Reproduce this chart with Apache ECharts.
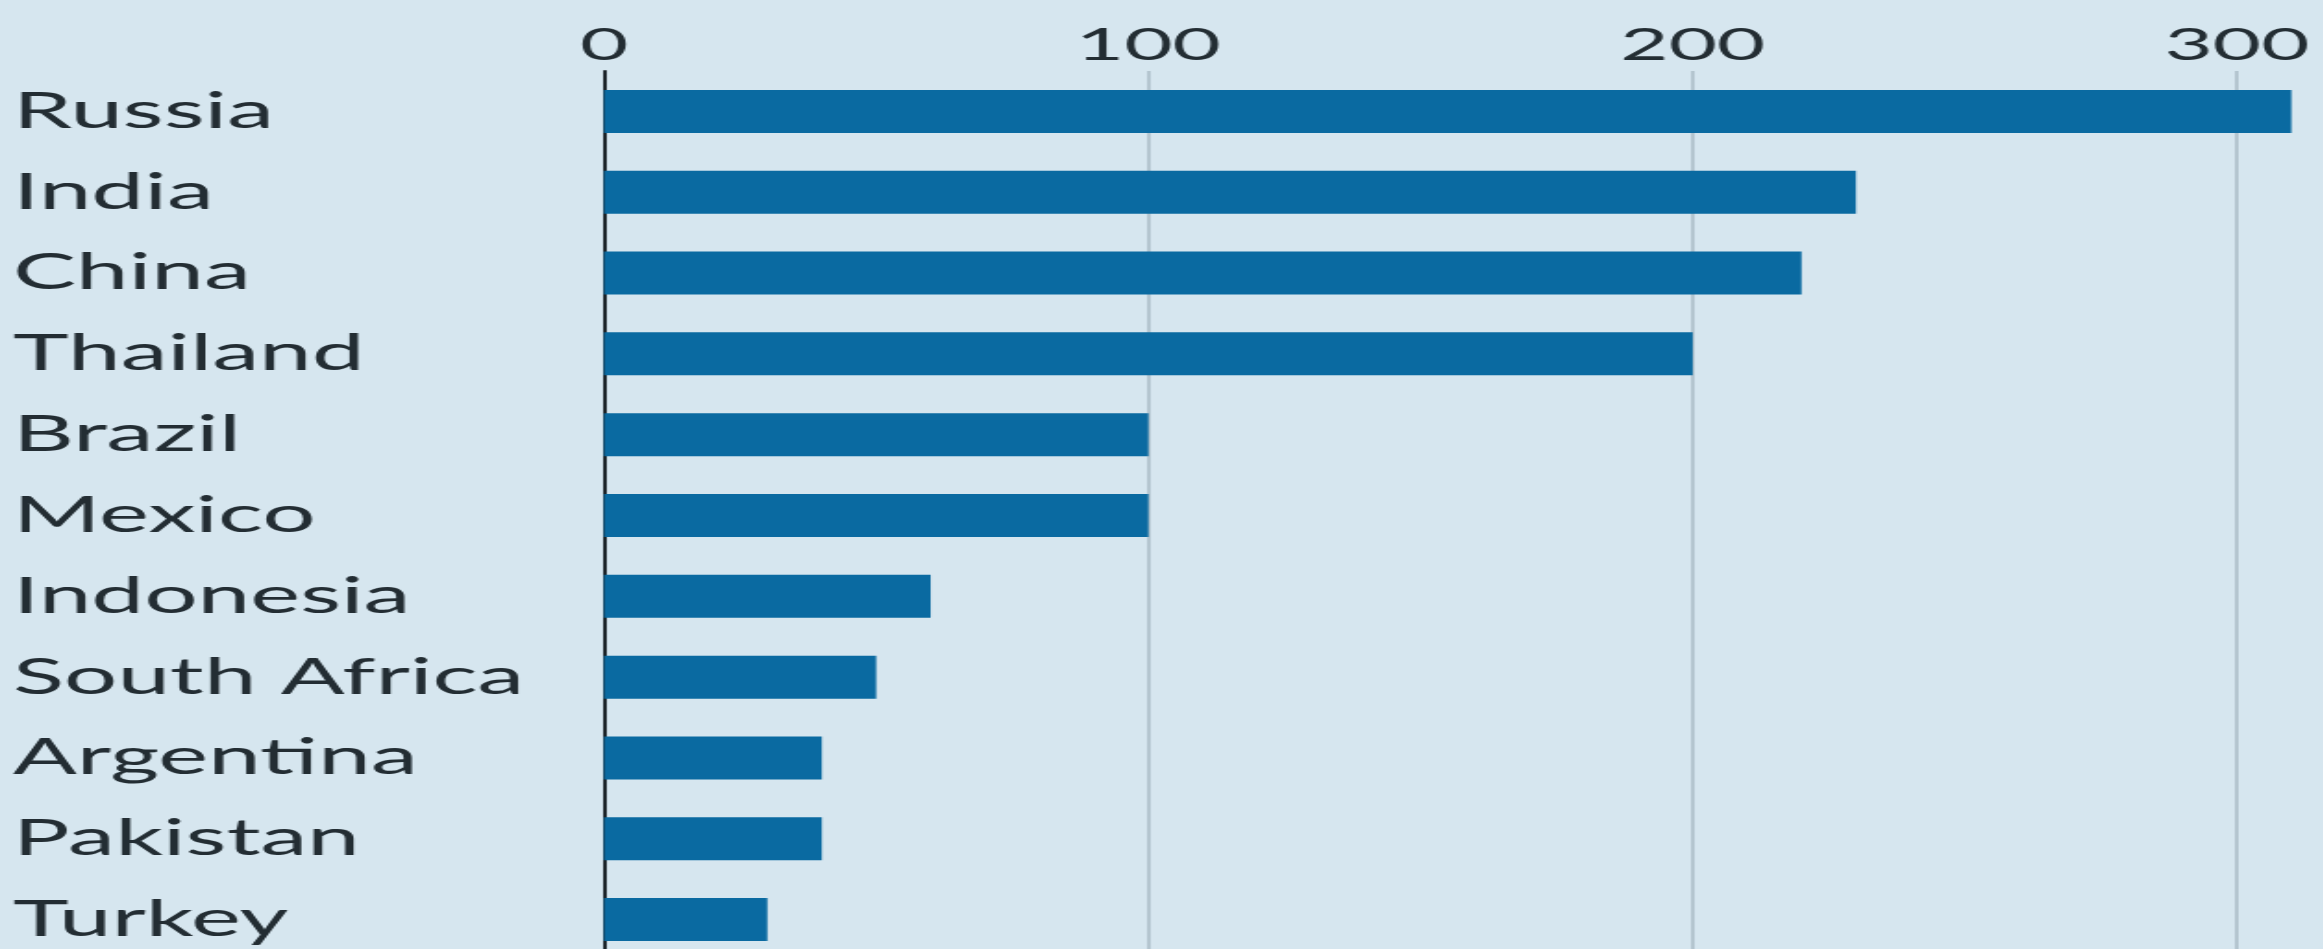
<!DOCTYPE html>
<html>
<head>
<meta charset="utf-8">
<script src="https://cdn.jsdelivr.net/npm/echarts@6/dist/echarts.min.js"></script>
<style>
  html, body { margin: 0; padding: 0; background: #d6e6ef; overflow: hidden; }
  /* the reference is stretched sideways, so the chart is drawn narrow and scaled;
     it runs a little past the window on the right and bottom, like the cropped original */
  #chart { width: 1268px; height: 960px; transform: scaleX(1.85); transform-origin: 0 0; }
</style>
</head>
<body>
<div id="chart"></div>
<script>
const countries = ['Russia', 'India', 'China', 'Thailand', 'Brazil', 'Mexico', 'Indonesia', 'South Africa', 'Argentina', 'Pakistan', 'Turkey'];
const values = [310, 230, 220, 200, 100, 100, 60, 50, 40, 40, 30];
const ticks = [0, 100, 200, 300];

const textColor = '#232d33';
const chart = echarts.init(document.getElementById('chart'));
chart.setOption({
  backgroundColor: '#d6e6ef',
  animation: false,
  grid: {
    left: 326.5,
    right: 0,
    top: 71,
    bottom: 0,
  },
  xAxis: {
    type: 'value',
    position: 'top',
    min: 0,
    max: 320,
    interval: 100,
    axisLine: { show: false },
    axisTick: { show: false },
    axisLabel: {
      showMaxLabel: false,
      margin: 3,
      fontFamily: 'Lato',
      fontSize: 45,
      color: textColor,
      formatter: (v) => (ticks.includes(v) ? String(v) : ''),
    },
    splitLine: {
      lineStyle: { color: '#a9bac5', width: 1.5 },
    },
  },
  yAxis: {
    type: 'category',
    inverse: true,
    data: countries,
    axisTick: { show: false },
    axisLine: {
      show: true,
      lineStyle: { color: '#1b2328', width: 2 },
    },
    axisLabel: {
      align: 'left',
      margin: 319.5,
      fontFamily: 'Lato',
      fontSize: 51,
      color: textColor,
    },
  },
  series: [
    {
      type: 'bar',
      data: values,
      barWidth: 43,
      itemStyle: { color: '#0a6aa1' },
      z: 1,
    },
  ],
});
</script>
</body>
</html>
